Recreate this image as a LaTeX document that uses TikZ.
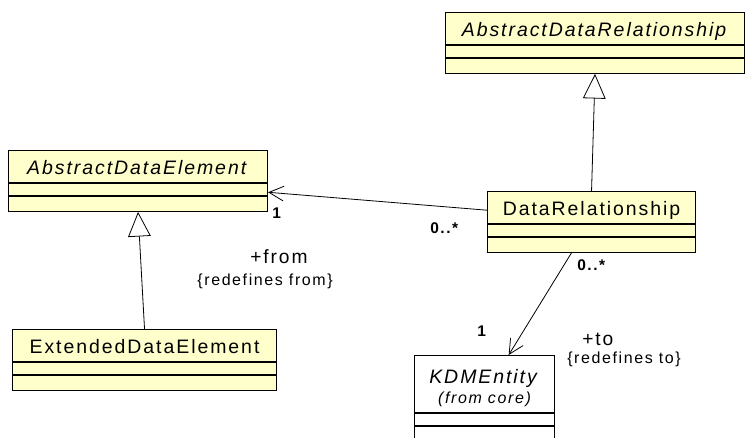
\documentclass[tikz,border=0pt]{standalone}
\usepackage{fontspec}
\setmainfont[LetterSpace=10]{Liberation Sans}
\usepackage{tikz}
\usetikzlibrary{arrows.meta,positioning,calc}
\definecolor{umlyellow}{HTML}{FFFFCC}

\begin{document}
\begin{tikzpicture}[x=0.75pt, y=-0.75pt,
    classbox/.style={rectangle, draw=black, fill=umlyellow, line width=0.8pt, inner sep=0pt},
    classname/.style={classbox, minimum height=24pt, text height=11.5pt, text depth=0pt, font=\fontsize{14.6pt}{17pt}\selectfont},
    compart/.style={classbox, minimum height=9pt},
    opcompart/.style={classbox, minimum height=11pt},
    assoc/.style={-{Straight Barb[length=11pt, width=11pt]}, line width=0.6pt},
    generalize/.style={-{Triangle[open, length=18.5pt, width=17pt, fill=white]}, line width=0.6pt},
    mult/.style={inner sep=0pt, font=\fontsize{11.6pt}{13pt}\selectfont\bfseries},
    role/.style={inner sep=0pt, font=\fontsize{14.4pt}{17pt}\selectfont},
    constraint/.style={inner sep=0pt, font=\fontsize{12pt}{14pt}\selectfont}]

    \useasboundingbox (0,0) rectangle (745,437);
    \clip (0,0) rectangle (745,437);

    % classes
    \node [classname, anchor=north west, minimum width=224.25pt] (adr) at (445,12) {\textit{AbstractDataRelationship}};
    \node [compart, below=0pt of adr, minimum width=224.25pt] (adr-attr) {};
    \node [opcompart, below=0pt of adr-attr, minimum width=224.25pt] (adr-op) {};

    \node [classname, anchor=north west, minimum width=194.25pt] (ade) at (8,150) {\textit{AbstractDataElement}};
    \node [compart, below=0pt of ade, minimum width=194.25pt] (ade-attr) {};
    \node [opcompart, below=0pt of ade-attr, minimum width=194.25pt] (ade-op) {};

    \node [classname, anchor=north west, minimum width=198pt] (ede) at (12,329) {ExtendedDataElement};
    \node [compart, below=0pt of ede, minimum width=198pt] (ede-attr) {};
    \node [opcompart, below=0pt of ede-attr, minimum width=198pt] (ede-op) {};

    \node [classname, anchor=north west, minimum width=156pt] (dr) at (487,191) {DataRelationship};
    \node [compart, below=0pt of dr, minimum width=156pt] (dr-attr) {};
    \node [opcompart, below=0pt of dr-attr, minimum width=156pt] (dr-op) {};

    \node [classbox, fill=white, anchor=north west, minimum width=105pt, minimum height=42.75pt, align=center, font=\fontsize{14.6pt}{15pt}\selectfont] (kdm) at (414,355)
        {\rule{0pt}{16.5pt}\textit{KDMEntity}\\{\fontsize{12pt}{15pt}\selectfont\itshape (from core)}};
    \node [compart, fill=white, below=0pt of kdm, minimum width=105pt] (kdm-attr) {};
    \node [compart, fill=white, below=0pt of kdm-attr, minimum width=105pt, minimum height=20pt] (kdm-op) {};

    % relations
    \draw [generalize] (dr.north) -- (adr-op.south);
    \draw [generalize] (ede.north) -- (ade-op.south);
    \draw [assoc] ([yshift=-2pt]dr.west) -- ([yshift=-2pt]ade-attr.east);
    \draw [assoc] ($(dr-op.south west)!0.404!(dr-op.south east)$) -- ($(kdm.north west)!0.671!(kdm.north east)$);

    % ends
    \node [mult, anchor=base west] (from-mult) at (272,218) {1};
    \node [mult, anchor=base west] (src-mult) at (430,233) {0..*};
    \node [role, anchor=base west] (from-role) at (250,263) {+from};
    \node [constraint, anchor=base east] (from-cons) at (333,285) {\{redefines from\}};
    \node [mult, anchor=base west] (tgt-mult) at (577,270) {0..*};
    \node [mult, anchor=base west] (to-mult) at (477,336) {1};
    \node [role, anchor=base west] (to-role) at (582,345) {+to};
    \node [constraint, anchor=base west] (to-cons) at (567,363) {\{redefines to\}};
\end{tikzpicture}
\end{document}
